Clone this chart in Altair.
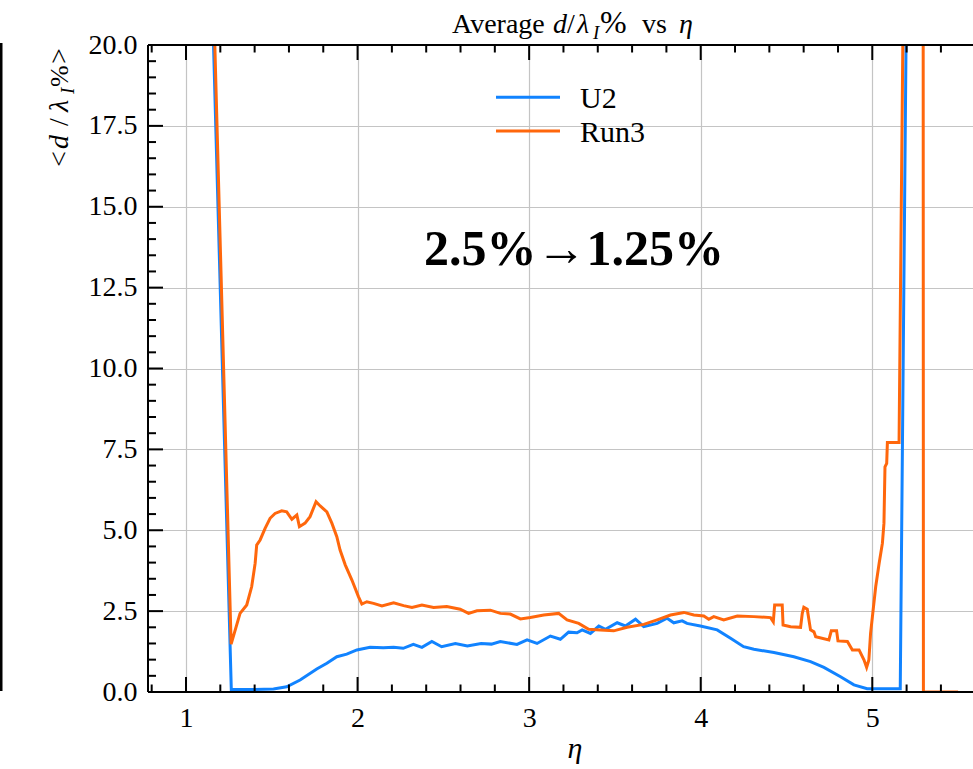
import altair as alt
import pandas as pd

# ---------------- data ----------------
u2_eta = [1.15, 1.264, 1.30, 1.40, 1.51, 1.587, 1.665, 1.762, 1.821, 1.879, 1.937, 1.996,
          2.073, 2.15, 2.21, 2.266, 2.325, 2.375, 2.433, 2.49, 2.57, 2.64, 2.72, 2.78,
          2.832, 2.929, 2.988, 3.046, 3.124, 3.182, 3.23, 3.279, 3.309, 3.357, 3.406, 3.445,
          3.513, 3.561, 3.62, 3.668, 3.746, 3.804, 3.843, 3.892, 3.92, 3.998, 4.096, 4.174,
          4.25, 4.31, 4.427, 4.543, 4.64, 4.718, 4.815, 4.893, 4.97, 5.163, 5.2]
u2_val = [22.0, 0.08, 0.08, 0.08, 0.09, 0.16, 0.37, 0.71, 0.89, 1.09, 1.17, 1.30,
          1.38, 1.37, 1.38, 1.35, 1.47, 1.38, 1.56, 1.40, 1.50, 1.42, 1.50, 1.48,
          1.56, 1.47, 1.61, 1.50, 1.73, 1.63, 1.85, 1.83, 1.92, 1.81, 2.04, 1.94,
          2.14, 2.04, 2.25, 2.02, 2.12, 2.28, 2.14, 2.20, 2.12, 2.04, 1.92, 1.66,
          1.40, 1.32, 1.22, 1.09, 0.94, 0.76, 0.47, 0.22, 0.10, 0.10, 22.0]

run3_eta = [1.15, 1.263, 1.315, 1.354, 1.383, 1.403, 1.412, 1.432, 1.461, 1.49, 1.519, 1.558,
            1.587, 1.617, 1.646, 1.661, 1.694, 1.723, 1.758, 1.782, 1.821, 1.85, 1.879, 1.898,
            1.928, 1.967, 2.005, 2.025, 2.054, 2.093, 2.142, 2.21, 2.268, 2.317, 2.375, 2.443,
            2.52, 2.598, 2.647, 2.696, 2.774, 2.832, 2.89, 2.949, 3.007, 3.085, 3.172, 3.221,
            3.289, 3.347, 3.415, 3.493, 3.571, 3.668, 3.746, 3.824, 3.902, 3.96, 4.018, 4.047,
            4.076, 4.134, 4.213, 4.31, 4.407, 4.423, 4.431, 4.475, 4.48, 4.524, 4.582, 4.592,
            4.601, 4.621, 4.64, 4.66, 4.67, 4.747, 4.761, 4.792, 4.8, 4.855, 4.884, 4.923,
            4.952, 4.967, 4.98, 4.99, 5.02, 5.04, 5.059, 5.068, 5.074, 5.084, 5.088, 5.156,
            5.185, 5.296, 5.298, 5.50]
run3_val = [23.5, 1.48, 2.43, 2.69, 3.26, 3.98, 4.54, 4.70, 5.06, 5.37, 5.52, 5.60,
            5.57, 5.34, 5.47, 5.11, 5.22, 5.42, 5.88, 5.75, 5.57, 5.22, 4.80, 4.39,
            3.93, 3.46, 2.95, 2.72, 2.79, 2.74, 2.66, 2.76, 2.67, 2.61, 2.69, 2.61,
            2.64, 2.56, 2.43, 2.51, 2.53, 2.43, 2.41, 2.26, 2.30, 2.38, 2.43, 2.23,
            2.12, 1.94, 1.92, 1.89, 2.00, 2.09, 2.23, 2.38, 2.46, 2.38, 2.35, 2.25,
            2.33, 2.23, 2.35, 2.33, 2.30, 2.17, 2.69, 2.69, 2.07, 2.02, 2.00, 2.43,
            2.62, 2.56, 1.92, 1.86, 1.71, 1.61, 1.89, 1.89, 1.58, 1.56, 1.30, 1.30,
            0.99, 0.76, 0.99, 1.81, 3.26, 3.98, 4.60, 5.22, 6.96, 7.07, 7.71, 7.71,
            24.0, 30.0, 0.0, 0.0]

series_names = ["U2", "Run3"]
series_colors = ["#1183FF", "#FF670C"]

x_major = [1, 2, 3, 4, 5]
x_minor = [0.8, 1.2, 1.4, 1.6, 1.8, 2.2, 2.4, 2.6, 2.8, 3.2, 3.4, 3.6, 3.8,
           4.2, 4.4, 4.6, 4.8, 5.2, 5.4]
y_major = [0, 2.5, 5, 7.5, 10, 12.5, 15, 17.5, 20]
y_minor = [i * 0.5 for i in range(41) if i % 5 != 0]

x_domain = [0.7785, 5.587]
y_domain = [0, 20]

W, H = 825, 647
FONT = "Liberation Serif"

# ---------------- encodings ----------------
xscale = alt.Scale(domain=x_domain, nice=False, zero=False)
yscale = alt.Scale(domain=y_domain, nice=False, zero=False)
xaxis = alt.Axis(values=x_major, format="d", grid=True, ticks=False, domain=False,
                 labelFont=FONT, labelFontSize=28, labelColor="black",
                 labelPadding=34, labelBaseline="alphabetic", title=None,
                 gridColor="#c4c4c4", gridWidth=1.2)
yaxis = alt.Axis(values=y_major, format=".1f", grid=True, ticks=False, domain=False,
                 labelFont=FONT, labelFontSize=28, labelColor="black",
                 labelPadding=11, title=None, gridColor="#c4c4c4", gridWidth=1.2)


def X(field):
    return alt.X(f"{field}:Q", scale=xscale, axis=xaxis)


def Y(field):
    return alt.Y(f"{field}:Q", scale=yscale, axis=yaxis)


color_enc = alt.Color("series:N", scale=alt.Scale(domain=series_names, range=series_colors),
                      legend=None)

u2_df = pd.DataFrame({"eta": u2_eta, "val": u2_val, "series": "U2"})
run3_df = pd.DataFrame({"eta": run3_eta, "val": run3_val, "series": "Run3"})

line_u2 = alt.Chart(u2_df).mark_line(clip=True, strokeWidth=3).encode(
    x=X("eta"), y=Y("val"), color=color_enc)
line_run3 = alt.Chart(run3_df).mark_line(clip=True, strokeWidth=3).encode(
    x=X("eta"), y=Y("val"), color=color_enc)

one = pd.DataFrame({"a": [0]})

# spines
spine_bottom = alt.Chart(one).mark_rule(color="black", strokeWidth=2).encode(y=alt.datum(0))
spine_top = alt.Chart(one).mark_rule(color="black", strokeWidth=2).encode(y=alt.datum(20))
spine_left = alt.Chart(one).mark_rule(color="black", strokeWidth=2).encode(x=alt.datum(x_domain[0]))

# inward ticks
xmaj_df = pd.DataFrame({"eta": x_major})
xmin_df = pd.DataFrame({"eta": x_minor})
ymaj_df = pd.DataFrame({"val": y_major})
ymin_df = pd.DataFrame({"val": y_minor})

tick_layers = []
for df, ln in [(xmaj_df, 15), (xmin_df, 7.5)]:
    tick_layers.append(alt.Chart(df).mark_rule(color="black", strokeWidth=2).encode(
        x=X("eta"), y=alt.value(H), y2=alt.value(H - ln)))
    tick_layers.append(alt.Chart(df).mark_rule(color="black", strokeWidth=2).encode(
        x=X("eta"), y=alt.value(0), y2=alt.value(ln)))
for df, ln in [(ymaj_df, 15), (ymin_df, 8)]:
    tick_layers.append(alt.Chart(df).mark_rule(color="black", strokeWidth=2).encode(
        y=Y("val"), x=alt.value(0), x2=alt.value(ln)))

# stray edge line at far left
stray = alt.Chart(one).mark_rule(color="black", strokeWidth=3).encode(
    x=alt.value(-147), y=alt.value(-2), y2=alt.value(H - 1))


def txt(s, x, y, size=28, style="normal", weight="normal", align="left", angle=0):
    return alt.Chart(one).mark_text(
        font=FONT, fontSize=size, fontStyle=style, fontWeight=weight, align=align,
        baseline="alphabetic", angle=angle, color="black"
    ).encode(x=alt.value(x), y=alt.value(y), text=alt.value(s))


texts = [
    # title
    txt("Average", 304, -12),
    txt("d", 405, -12, style="italic"),
    txt("/", 419, -12),
    txt("λ", 429, -12, style="italic"),
    txt("I", 445, -6, size=19, style="italic"),
    txt("%", 452, -12, size=32),
    txt("vs", 494, -12),
    txt("η", 531, -12, style="italic"),
    # y-axis label (rotated)
    txt("<", -80, 122, angle=270),
    txt("d", -80, 104, style="italic", angle=270),
    txt("/", -80, 81, angle=270),
    txt("λ", -80, 67, style="italic", angle=270),
    txt("I", -74, 49, size=19, style="italic", angle=270),
    txt("%", -80, 42, size=26, angle=270),
    txt(">", -80, 19, angle=270),
    # x-axis label
    txt("η", 427, 713, size=30, style="italic", align="center"),
    # annotation
    txt("2.5%→1.25%", 426, 220, size=50, weight="bold", align="center"),
]

# legend (manual)
leg = []
for name, ly, ty in [("U2", 52.3, 63.3), ("Run3", 86, 96.7)]:
    d = pd.DataFrame({"series": [name]})
    leg.append(alt.Chart(d).mark_rule(strokeWidth=3).encode(
        x=alt.value(348), x2=alt.value(412), y=alt.value(ly), color=color_enc))
    leg.append(alt.Chart(d).mark_text(font=FONT, fontSize=30, align="left",
                                      baseline="alphabetic", color="black").encode(
        x=alt.value(432), y=alt.value(ty), text="series:N"))

chart = alt.layer(
    line_u2, line_run3, spine_bottom, spine_top, spine_left, *tick_layers, stray, *texts, *leg
).properties(
    width=W, height=H,
    autosize=alt.AutoSizeParams(type="none"),
    padding={"left": 148, "top": 45, "right": 0, "bottom": 77},
).configure_view(stroke=None).configure(background="white")

chart.save("out.html", embed_options={"renderer": "svg", "actions": False})
